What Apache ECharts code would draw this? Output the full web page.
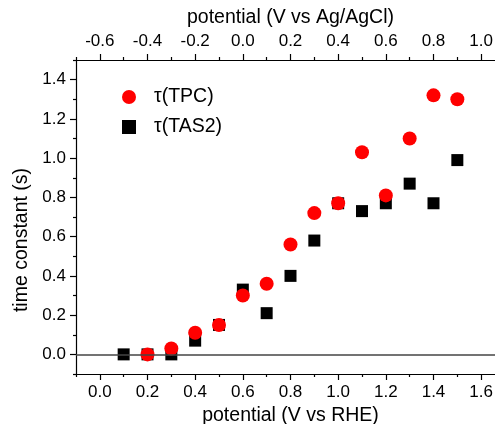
<!DOCTYPE html>
<html>
<head>
<meta charset="utf-8">
<script src="https://cdn.jsdelivr.net/npm/echarts@6/dist/echarts.min.js"></script>
<style>
	html, body { margin: 0; padding: 0; background: #fff; }
	#chart { width: 495px; height: 424px; }
</style>
</head>
<body>
<div id="chart"></div>
<script>
	// potential vs RHE
	var tpcX = [0.2, 0.3, 0.4, 0.5, 0.6, 0.7, 0.8, 0.9, 1.0, 1.1, 1.2, 1.3, 1.4, 1.5];
	var tpcY = [0.00, 0.03, 0.11, 0.15, 0.30, 0.36, 0.56, 0.72, 0.77, 1.03, 0.81, 1.10, 1.32, 1.30];
	var tasX = [0.1, 0.2, 0.3, 0.4, 0.5, 0.6, 0.7, 0.8, 0.9, 1.0, 1.1, 1.2, 1.3, 1.4, 1.5];
	var tasY = [0.00, 0.00, 0.00, 0.07, 0.15, 0.33, 0.21, 0.40, 0.58, 0.77, 0.73, 0.77, 0.87, 0.77, 0.99];

	// ticks
	var rheTicks = [0.0, 0.2, 0.4, 0.6, 0.8, 1.0, 1.2, 1.4, 1.6];
	var rheMinor = [-0.1, 0.1, 0.3, 0.5, 0.7, 0.9, 1.1, 1.3, 1.5];
	var agTicks = [-0.6, -0.4, -0.2, 0.0, 0.2, 0.4, 0.6, 0.8, 1.0];
	var agMinor = [-0.7, -0.5, -0.3, -0.1, 0.1, 0.3, 0.5, 0.7, 0.9];
	var yTicks = [0.0, 0.2, 0.4, 0.6, 0.8, 1.0, 1.2, 1.4];
	var yMinor = [-0.1, 0.1, 0.3, 0.5, 0.7, 0.9, 1.1, 1.3, 1.5];

	function pairs(xs, ys) {
		var out = [];
		for (var i = 0; i < xs.length; i++) {
			out.push([xs[i], ys[i]]);
		}
		return out;
	}

	var font = 'Liberation Sans, Arial, sans-serif';
	var fmt = function(v) { return v.toFixed(1); };

	function mainAxis(pos, min, max, labels, name) {
		return {
			type: 'value',
			position: pos,
			min: min,
			max: max,
			name: name,
			nameLocation: 'middle',
			nameGap: pos === 'left' ? 40 : 32,
			nameTextStyle: {
				color: '#000',
				fontSize: 19.5,
				fontFamily: font,
				// push the rotated y title a bit downward, like the original
				padding: pos === 'left' ? [0, 46, 0, 0] : 0
			},
			axisLine: { show: true, onZero: false, lineStyle: { color: '#000', width: 1.2 } },
			axisTick: { show: true, inside: false, length: 6, customValues: labels, lineStyle: { color: '#000', width: 1.2 } },
			axisLabel: { show: true, margin: 10, customValues: labels, formatter: fmt, color: '#000', fontSize: 17, fontFamily: font },
			splitLine: { show: false }
		};
	}

	function minorAxis(pos, min, max, ticks) {
		return {
			type: 'value',
			position: pos,
			min: min,
			max: max,
			axisLine: { show: false, onZero: false },
			axisTick: { show: true, inside: false, length: 3, customValues: ticks, lineStyle: { color: '#000', width: 1.2 } },
			axisLabel: { show: false },
			splitLine: { show: false }
		};
	}

	var myChart = echarts.init(document.getElementById('chart'));
	var option = {
		animation: false,
		backgroundColor: '#fff',
		grid: {
			left: 76,
			right: -10,
			top: 60,
			bottom: 50,
			containLabel: false,
			outerBoundsMode: 'none'
		},
		legend: {
			orient: 'vertical',
			left: 117,
			top: 82,
			itemWidth: 14,
			itemHeight: 14,
			itemGap: 10,
			textStyle: { color: '#000', fontSize: 19.5, fontFamily: font, padding: [0, 0, 0, 13] },
			data: [
				{ name: 'τ(TPC)', icon: 'circle' },
				{ name: 'τ(TAS2)', icon: 'rect' }
			]
		},
		xAxis: [
			mainAxis('bottom', -0.1, 1.7, rheTicks, 'potential (V vs RHE)'),
			mainAxis('top', -0.7, 1.1, agTicks, 'potential (V vs Ag/AgCl)'),
			minorAxis('bottom', -0.1, 1.7, rheMinor),
			minorAxis('top', -0.7, 1.1, agMinor)
		],
		yAxis: [
			mainAxis('left', -0.1, 1.5, yTicks, 'time constant (s)'),
			minorAxis('left', -0.1, 1.5, yMinor)
		],
		series: [{
			name: 'τ(TAS2)',
			type: 'scatter',
			symbol: 'rect',
			symbolSize: 12,
			itemStyle: { color: '#000', opacity: 1 },
			data: pairs(tasX, tasY),
			markLine: {
				silent: true,
				symbol: 'none',
				label: { show: false },
				lineStyle: { color: '#444', width: 1.5, type: 'solid' },
				data: [{ yAxis: 0 }]
			}
		}, {
			name: 'τ(TPC)',
			type: 'scatter',
			symbol: 'circle',
			symbolSize: 14,
			itemStyle: { color: '#ff0000', opacity: 1 },
			data: pairs(tpcX, tpcY)
		}]
	};
	myChart.setOption(option);
</script>
</body>
</html>
